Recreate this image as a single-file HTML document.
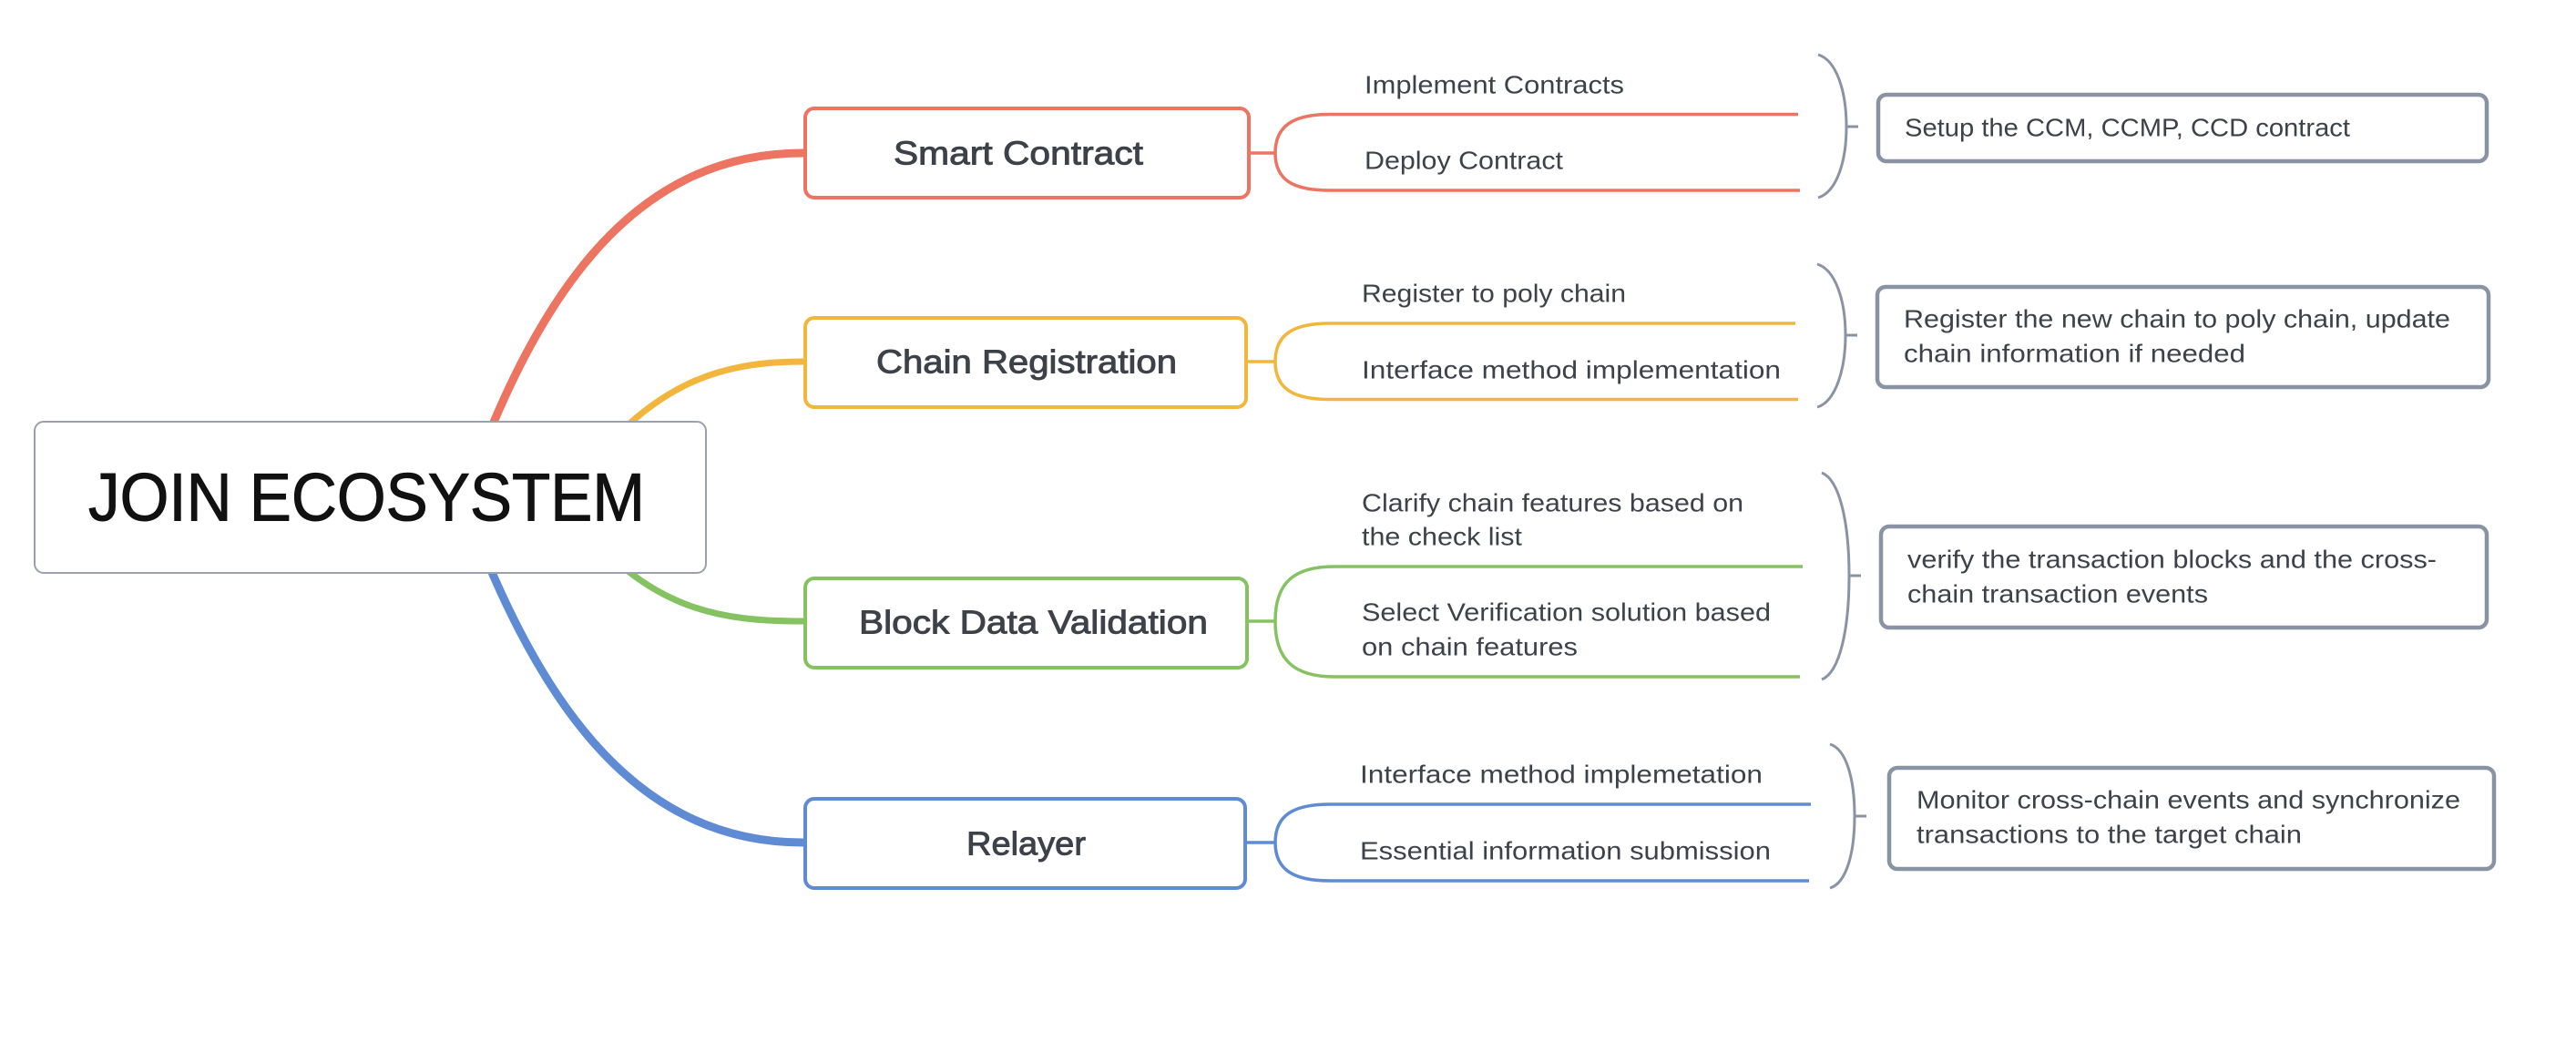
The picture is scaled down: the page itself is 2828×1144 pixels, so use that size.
<!DOCTYPE html>
<html><head><meta charset="utf-8"><style>html,body{margin:0;padding:0;background:#fff}svg{display:block}</style></head>
<body>
<svg width="2828" height="1144" viewBox="0 0 2828 1144" xmlns="http://www.w3.org/2000/svg" font-family="'Liberation Sans', sans-serif">
<rect width="2828" height="1144" fill="#fff"/>
<g fill="none" stroke-linecap="round">
<path d="M505 560 C585 330 690 168 882 168" stroke="#ec7461" stroke-width="9"/>
<path d="M640 520 C720 420 790 397 882 397" stroke="#f2b63c" stroke-width="7"/>
<path d="M640 580 C720 670 790 682 882 682" stroke="#85c261" stroke-width="7"/>
<path d="M505 540 C585 760 690 925 882 925" stroke="#5f8bd4" stroke-width="9"/>
</g>
<rect x="38" y="463" width="737" height="166" rx="10" fill="#fff" stroke="#9aa0ad" stroke-width="2"/>
<text x="97" y="546" dominant-baseline="central" font-size="74" fill="#111" stroke="#111" stroke-width="1" textLength="611" lengthAdjust="spacingAndGlyphs">JOIN ECOSYSTEM</text>
<g fill="#fff" stroke-width="4">
<rect x="884" y="119" width="487" height="98" rx="10" stroke="#ec7461"/>
<rect x="884" y="349" width="484" height="98" rx="10" stroke="#f2b63c"/>
<rect x="884" y="635" width="485" height="98" rx="10" stroke="#85c261"/>
<rect x="884" y="877" width="483" height="98" rx="10" stroke="#5f8bd4"/>
</g>
<g font-size="36" fill="#3d4149" stroke="#3d4149" stroke-width="0.9" dominant-baseline="central">
<text x="981" y="168" textLength="274" lengthAdjust="spacingAndGlyphs">Smart Contract</text>
<text x="962" y="397" textLength="330" lengthAdjust="spacingAndGlyphs">Chain Registration</text>
<text x="943" y="683" textLength="383" lengthAdjust="spacingAndGlyphs">Block Data Validation</text>
<text x="1061" y="926" textLength="131" lengthAdjust="spacingAndGlyphs">Relayer</text>
</g>
<g fill="none" stroke-width="3.5">
<path d="M1371 168 H1400 M1400 168 C1400 138 1420 125.5 1460 125.5 H1974 M1400 168 C1400 198 1420 209 1460 209 H1976" stroke="#ec7461"/>
<path d="M1368 397 H1400 M1400 397 C1400 367 1420 355 1460 355 H1971 M1400 397 C1400 427 1420 438.5 1460 438.5 H1974" stroke="#f2b63c"/>
<path d="M1369 682 H1400 M1400 682 C1400 640 1420 622 1465 622 H1979 M1400 682 C1400 724 1420 743 1465 743 H1976" stroke="#85c261"/>
<path d="M1367 925 H1400 M1400 925 C1400 895 1420 883 1460 883 H1988 M1400 925 C1400 955 1420 967 1460 967 H1986" stroke="#5f8bd4"/>
</g>
<g fill="none" stroke="#8a93a3" stroke-width="3">
<path d="M1996 60 C2016 66 2027 100 2027 139 C2027 178 2016 211 1996 217 M2027 139 H2040"/>
<path d="M1995 290 C2015 296 2026 330 2026 368 C2026 406 2015 441 1995 447 M2026 368 H2039"/>
<path d="M2000 519 C2020 527 2030 575 2030 632 C2030 690 2020 738 2000 746 M2030 632 H2043"/>
<path d="M2009 817 C2028 823 2036 858 2036 896 C2036 934 2028 969 2009 975 M2036 896 H2049"/>
</g>
<g font-size="28" fill="#3d4149" dominant-baseline="central">
<text x="1498" y="93" textLength="285" lengthAdjust="spacingAndGlyphs">Implement Contracts</text>
<text x="1498" y="176" textLength="218" lengthAdjust="spacingAndGlyphs">Deploy Contract</text>
<text x="1495" y="322" textLength="290" lengthAdjust="spacingAndGlyphs">Register to poly chain</text>
<text x="1495" y="406" textLength="460" lengthAdjust="spacingAndGlyphs">Interface method implementation</text>
<text x="1495" y="552" textLength="419" lengthAdjust="spacingAndGlyphs">Clarify chain features based on</text>
<text x="1495" y="589" textLength="176" lengthAdjust="spacingAndGlyphs">the check list</text>
<text x="1495" y="672" textLength="449" lengthAdjust="spacingAndGlyphs">Select Verification solution based</text>
<text x="1495" y="710" textLength="237" lengthAdjust="spacingAndGlyphs">on chain features</text>
<text x="1493" y="850" textLength="442" lengthAdjust="spacingAndGlyphs">Interface method implemetation</text>
<text x="1493" y="934" textLength="451" lengthAdjust="spacingAndGlyphs">Essential information submission</text>
</g>
<g fill="#fff" stroke="#8a93a3" stroke-width="4.5">
<rect x="2062" y="104" width="668" height="73" rx="9"/>
<rect x="2061" y="315" width="671" height="110" rx="9"/>
<rect x="2065" y="578" width="665" height="111" rx="9"/>
<rect x="2074" y="843" width="664" height="111" rx="9"/>
</g>
<g font-size="28" fill="#3d4149" dominant-baseline="central">
<text x="2091" y="140" textLength="489" lengthAdjust="spacingAndGlyphs">Setup the CCM, CCMP, CCD contract</text>
<text x="2090" y="350" textLength="600" lengthAdjust="spacingAndGlyphs">Register the new chain to poly chain, update</text>
<text x="2090" y="388" textLength="375" lengthAdjust="spacingAndGlyphs">chain information if needed</text>
<text x="2094" y="614" textLength="581" lengthAdjust="spacingAndGlyphs">verify the transaction blocks and the cross-</text>
<text x="2094" y="652" textLength="330" lengthAdjust="spacingAndGlyphs">chain transaction events</text>
<text x="2104" y="878" textLength="597" lengthAdjust="spacingAndGlyphs">Monitor cross-chain events and synchronize</text>
<text x="2104" y="916" textLength="423" lengthAdjust="spacingAndGlyphs">transactions to the target chain</text>
</g>
</svg>
</body></html>
